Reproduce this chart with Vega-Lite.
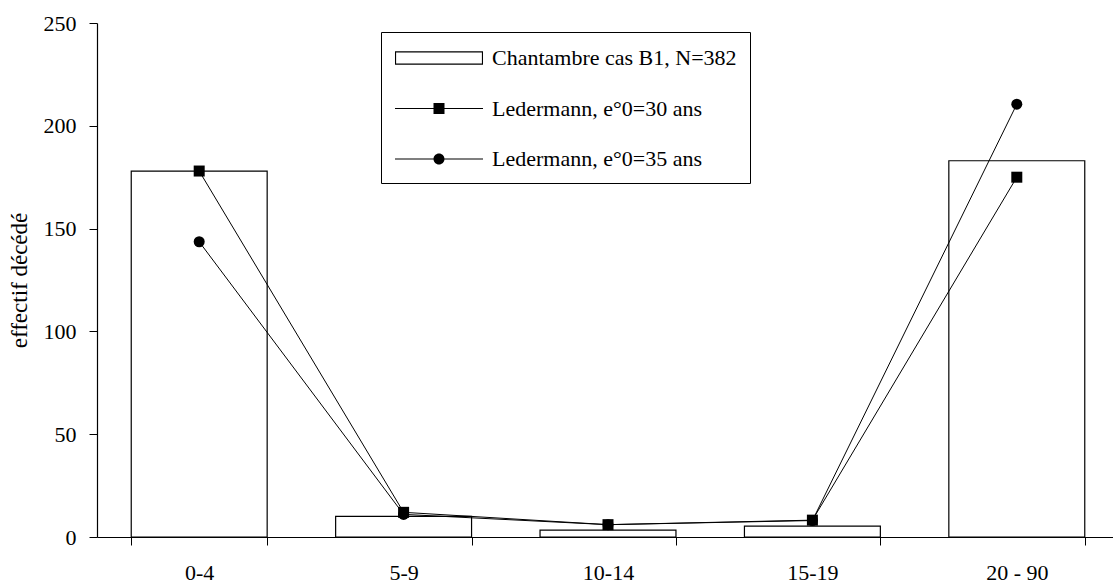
{
  "$schema": "https://vega.github.io/schema/vega-lite/v6.json",
  "autosize": "none",
  "padding": {"left": 97, "top": 23, "right": 0, "bottom": 49},
  "width": 1016,
  "height": 514,
  "background": "white",
  "data": {
    "values": [
      {"age": "0-4", "series": "Chantambre cas B1, N=382", "value": 178},
      {"age": "5-9", "series": "Chantambre cas B1, N=382", "value": 10},
      {"age": "10-14", "series": "Chantambre cas B1, N=382", "value": 3.3},
      {"age": "15-19", "series": "Chantambre cas B1, N=382", "value": 5.3},
      {"age": "20 - 90", "series": "Chantambre cas B1, N=382", "value": 183},
      {"age": "0-4", "series": "Ledermann, e°0=30 ans", "value": 178},
      {"age": "5-9", "series": "Ledermann, e°0=30 ans", "value": 12},
      {"age": "10-14", "series": "Ledermann, e°0=30 ans", "value": 6},
      {"age": "15-19", "series": "Ledermann, e°0=30 ans", "value": 8.2},
      {"age": "20 - 90", "series": "Ledermann, e°0=30 ans", "value": 175},
      {"age": "0-4", "series": "Ledermann, e°0=35 ans", "value": 143.6},
      {"age": "5-9", "series": "Ledermann, e°0=35 ans", "value": 11},
      {"age": "10-14", "series": "Ledermann, e°0=35 ans", "value": 6},
      {"age": "15-19", "series": "Ledermann, e°0=35 ans", "value": 8},
      {"age": "20 - 90", "series": "Ledermann, e°0=35 ans", "value": 210.5}
    ]
  },
  "encoding": {
    "x": {
      "field": "age",
      "type": "nominal",
      "sort": ["0-4", "5-9", "10-14", "15-19", "20 - 90"],
      "scale": {"range": [0, 1022], "paddingInner": 0.335, "paddingOuter": 0.1675},
      "axis": {"title": null, "labelAngle": 0, "tickBand": "extent", "tickSize": 8, "labelPadding": 17}
    },
    "y": {
      "field": "value",
      "type": "quantitative",
      "scale": {"domain": [0, 250], "nice": false},
      "axis": {"title": "effectif décédé", "values": [0, 50, 100, 150, 200, 250], "tickSize": 8, "labelPadding": 13, "titlePadding": 12, "titleFontSize": 23}
    }
  },
  "layer": [
    {
      "transform": [{"filter": "datum.series === 'Chantambre cas B1, N=382'"}],
      "mark": {"type": "bar", "fill": "white", "stroke": "black", "strokeWidth": 1.2}
    },
    {
      "transform": [{"filter": "datum.series !== 'Chantambre cas B1, N=382'"}],
      "mark": {"type": "line", "color": "black", "strokeWidth": 1},
      "encoding": {"detail": {"field": "series"}}
    },
    {
      "transform": [{"filter": "datum.series !== 'Chantambre cas B1, N=382'"}],
      "mark": {"type": "point", "filled": true, "color": "black", "opacity": 1, "size": 121},
      "encoding": {
        "shape": {
          "field": "series",
          "type": "nominal",
          "scale": {
            "domain": ["Ledermann, e°0=30 ans", "Ledermann, e°0=35 ans"],
            "range": ["square", "circle"]
          },
          "legend": null
        }
      }
    },
    {
      "transform": [{"filter": "datum.value < 0"}],
      "mark": {"type": "point", "filled": true, "color": "black", "opacity": 1},
      "encoding": {
        "shape": {
          "field": "series",
          "type": "nominal",
          "scale": {
            "domain": ["Chantambre cas B1, N=382", "Ledermann, e°0=30 ans", "Ledermann, e°0=35 ans"],
            "range": [
              "M-3.385,-0.51L3.385,-0.51L3.385,0.51L-3.385,0.51Z M-3.3,-0.43L-3.3,0.43L3.3,0.43L3.3,-0.43Z",
              "M-3.385,-0.04L3.385,-0.04L3.385,0.04L-3.385,0.04Z M-0.423,-0.423L0.423,-0.423L0.423,0.423L-0.423,0.423Z",
              "M-3.385,-0.04L3.385,-0.04L3.385,0.04L-3.385,0.04Z M-0.423,0A0.423,0.423,0,1,1,0.423,0A0.423,0.423,0,1,1,-0.423,0Z"
            ]
          },
          "legend": {
            "title": null,
            "orient": "none",
            "legendX": 284,
            "legendY": 9,
            "strokeColor": "black",
            "fillColor": "white",
            "padding": 13,
            "symbolSize": 676,
            "symbolStrokeWidth": 0,
            "symbolFillColor": "black",
            "symbolOpacity": 1,
            "symbolOffset": 32,
            "labelOffset": 40,
            "rowPadding": 26.5,
            "labelFontSize": 22,
            "labelFont": "Liberation Serif",
            "labelColor": "black",
            "labelLimit": 400
          }
        }
      }
    }
  ],
  "resolve": {"scale": {"shape": "independent"}},
  "config": {
    "view": {"stroke": null},
    "font": "Liberation Serif",
    "axis": {
      "grid": false,
      "domainColor": "black",
      "domainWidth": 1.2,
      "tickColor": "black",
      "tickWidth": 1,
      "labelColor": "black",
      "labelFont": "Liberation Serif",
      "labelFontSize": 22,
      "titleFont": "Liberation Serif",
      "titleFontWeight": "normal",
      "titleColor": "black"
    }
  }
}
